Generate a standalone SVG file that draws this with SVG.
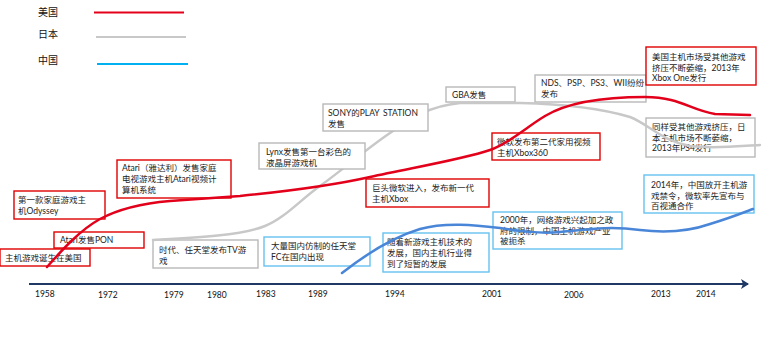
<svg xmlns="http://www.w3.org/2000/svg" width="764" height="359" viewBox="0 0 764 359">
<style>
text{font-family:Lato,"Noto Sans CJK SC",sans-serif;font-size:8.5px;fill:#222}
.yr{font-family:Lato,"Liberation Sans",sans-serif;font-size:8.5px;fill:#111}
.lg{font-size:10px;fill:#111}
.bx{fill:#fff;stroke-width:1.4}
.r{stroke:#e00000}
.g{stroke:#b8b8b8}
.b{stroke:#66c2f0}
.cv{fill:none;stroke-width:2.5;stroke-linecap:round}
</style>
<defs>
<marker id="arr" markerWidth="10" markerHeight="10" refX="7" refY="5" orient="auto" markerUnits="userSpaceOnUse">
<path d="M0,0 L8,5 L0,10 L2,5 Z" fill="#1f3864"/>
</marker>
</defs>

<g id="legend">
<text class="lg" x="38" y="16">美国</text>
<line x1="94" y1="12.5" x2="184" y2="12.5" stroke="#e4001b" stroke-width="2"/>
<text class="lg" x="38" y="38">日本</text>
<line x1="96" y1="37" x2="186" y2="37" stroke="#c8c8c8" stroke-width="2"/>
<text class="lg" x="38" y="64">中国</text>
<line x1="97" y1="64" x2="188" y2="64" stroke="#00b0f0" stroke-width="2"/>
</g>

<g id="axis">
<line x1="29" y1="284" x2="748" y2="284" stroke="#1f3864" stroke-width="2.2" marker-end="url(#arr)"/>
<text class="yr" x="35" y="297">1958</text>
<text class="yr" x="98" y="298">1972</text>
<text class="yr" x="164" y="298">1979</text>
<text class="yr" x="207" y="298">1980</text>
<text class="yr" x="256" y="297">1983</text>
<text class="yr" x="308" y="297">1989</text>
<text class="yr" x="385" y="297">1994</text>
<text class="yr" x="482" y="297">2001</text>
<text class="yr" x="564" y="298">2006</text>
<text class="yr" x="651" y="297">2013</text>
<text class="yr" x="696" y="297">2014</text>
</g>

<g id="n-odyssey"><rect class="bx r" x="14" y="191" width="91" height="28"/>
<text x="18" y="203">第一款家庭游戏主</text><text x="18" y="214">机Odyssey</text></g>
<g id="n-atari"><rect class="bx r" x="117" y="160" width="114" height="38"/>
<text x="122" y="171">Atari（雅达利）发售家庭</text><text x="122" y="182">电视游戏主机Atari视频计</text><text x="122" y="193">算机系统</text></g>
<g id="n-pon"><rect class="bx r" x="54" y="232" width="90" height="16"/>
<text x="60" y="243">Atari发售PON</text></g>
<g id="n-birth"><rect class="bx r" x="0" y="249" width="90" height="17"/>
<text x="5" y="261">主机游戏诞生在美国</text></g>
<g id="n-tv"><rect class="bx g" x="153" y="240" width="105" height="28"/>
<text x="159" y="253">时代、任天堂发布TV游</text><text x="159" y="264">戏</text></g>
<g id="n-fc"><rect class="bx b" x="264" y="237" width="106" height="29"/>
<text x="271" y="249">大量国内仿制的任天堂</text><text x="271" y="260">FC在国内出现</text></g>
<g id="n-xbox"><rect class="bx r" x="366" y="179" width="123" height="28"/>
<text x="372" y="191">巨头微软进入，发布新一代</text><text x="372" y="201.5">主机Xbox</text></g>
<g id="n-cn1"><rect class="bx b" x="383" y="233" width="106" height="39"/>
<text x="387" y="245">随着新游戏主机技术的</text><text x="387" y="256">发展，国内主机行业得</text><text x="387" y="266.5">到了短暂的发展</text></g>
<g id="n-gba"><rect class="bx g" x="446" y="87" width="69" height="15"/>
<text x="452" y="98">GBA发售</text></g>
<g id="n-x360"><rect class="bx r" x="492" y="133" width="108" height="27"/>
<text x="497" y="145">微软发布第二代家用视频</text><text x="497" y="155.5">主机Xbox360</text></g>
<g id="n-cn2"><rect class="bx b" x="493" y="212" width="129" height="37"/>
<text x="500" y="223">2000年，网络游戏兴起加之政</text><text x="500" y="233.5">府的限制，中国主机游戏产业</text><text x="500" y="244">被扼杀</text></g>
<g id="n-nds"><rect class="bx g" x="535" y="75" width="111" height="27"/>
<text x="541" y="86">NDS、PSP、PS3、WII纷纷</text><text x="541" y="96.5">发布</text></g>
<g id="n-us2013"><rect class="bx r" x="646" y="47" width="110" height="38"/>
<text x="652" y="60">美国主机市场受其他游戏</text><text x="652" y="70.5">挤压不断萎缩，2013年</text><text x="652" y="81">Xbox One发行</text></g>
<g id="n-jp2013"><rect class="bx g" x="646" y="118" width="109" height="39"/>
<text x="652" y="130">同样受其他游戏挤压，日</text><text x="652" y="140.5">本主机市场不断萎缩，</text><text x="652" y="151">2013年PS4发行</text></g>
<g id="n-cn2014"><rect class="bx b" x="644" y="175" width="110" height="38"/>
<text x="651" y="188">2014年，中国放开主机游</text><text x="651" y="198.5">戏禁令，微软率先宣布与</text><text x="651" y="209">百视通合作</text></g>

<g id="connectors">
<path class="cv" stroke="#c8c8c8" d="M153,240 C190,238 240,236 265,226 C285,218 300,200 320,186 C345,168 365,150 390,133 C410,118 430,106 460,103 L520,103 C560,104 600,108 630,117 C650,125 660,140 690,146 C715,149 740,146 760,145"/>
<path class="cv" stroke="#e3001b" d="M47,267 C62,250 80,230 100,219 C115,211 135,204 170,201 L240,196 C280,192 330,186 370,177 C410,168 460,160 490,150 C510,143 525,128 545,116 C565,104 600,97 645,97 C680,97 690,110 715,114 L750,115"/>
<path class="cv" stroke="#4a86d8" d="M342,273 C365,255 390,238 420,229 C445,222 475,225 500,228 C520,231 540,234 560,232 C590,229 610,226 640,230 C665,233 690,231 710,224 C730,218 745,212 753,209"/>
</g>

<g id="n-lynx"><rect class="bx g" x="259" y="143" width="106" height="26"/>
<text x="266" y="155">Lynx发售第一台彩色的</text><text x="266" y="165.5">液晶屏游戏机</text></g>
<g id="n-sony"><rect class="bx g" x="323" y="104" width="105" height="27"/>
<text x="328" y="116">SONY的PLAY</text><text x="383" y="116">STATION</text><text x="328" y="126.5">发售</text></g>
</svg>
